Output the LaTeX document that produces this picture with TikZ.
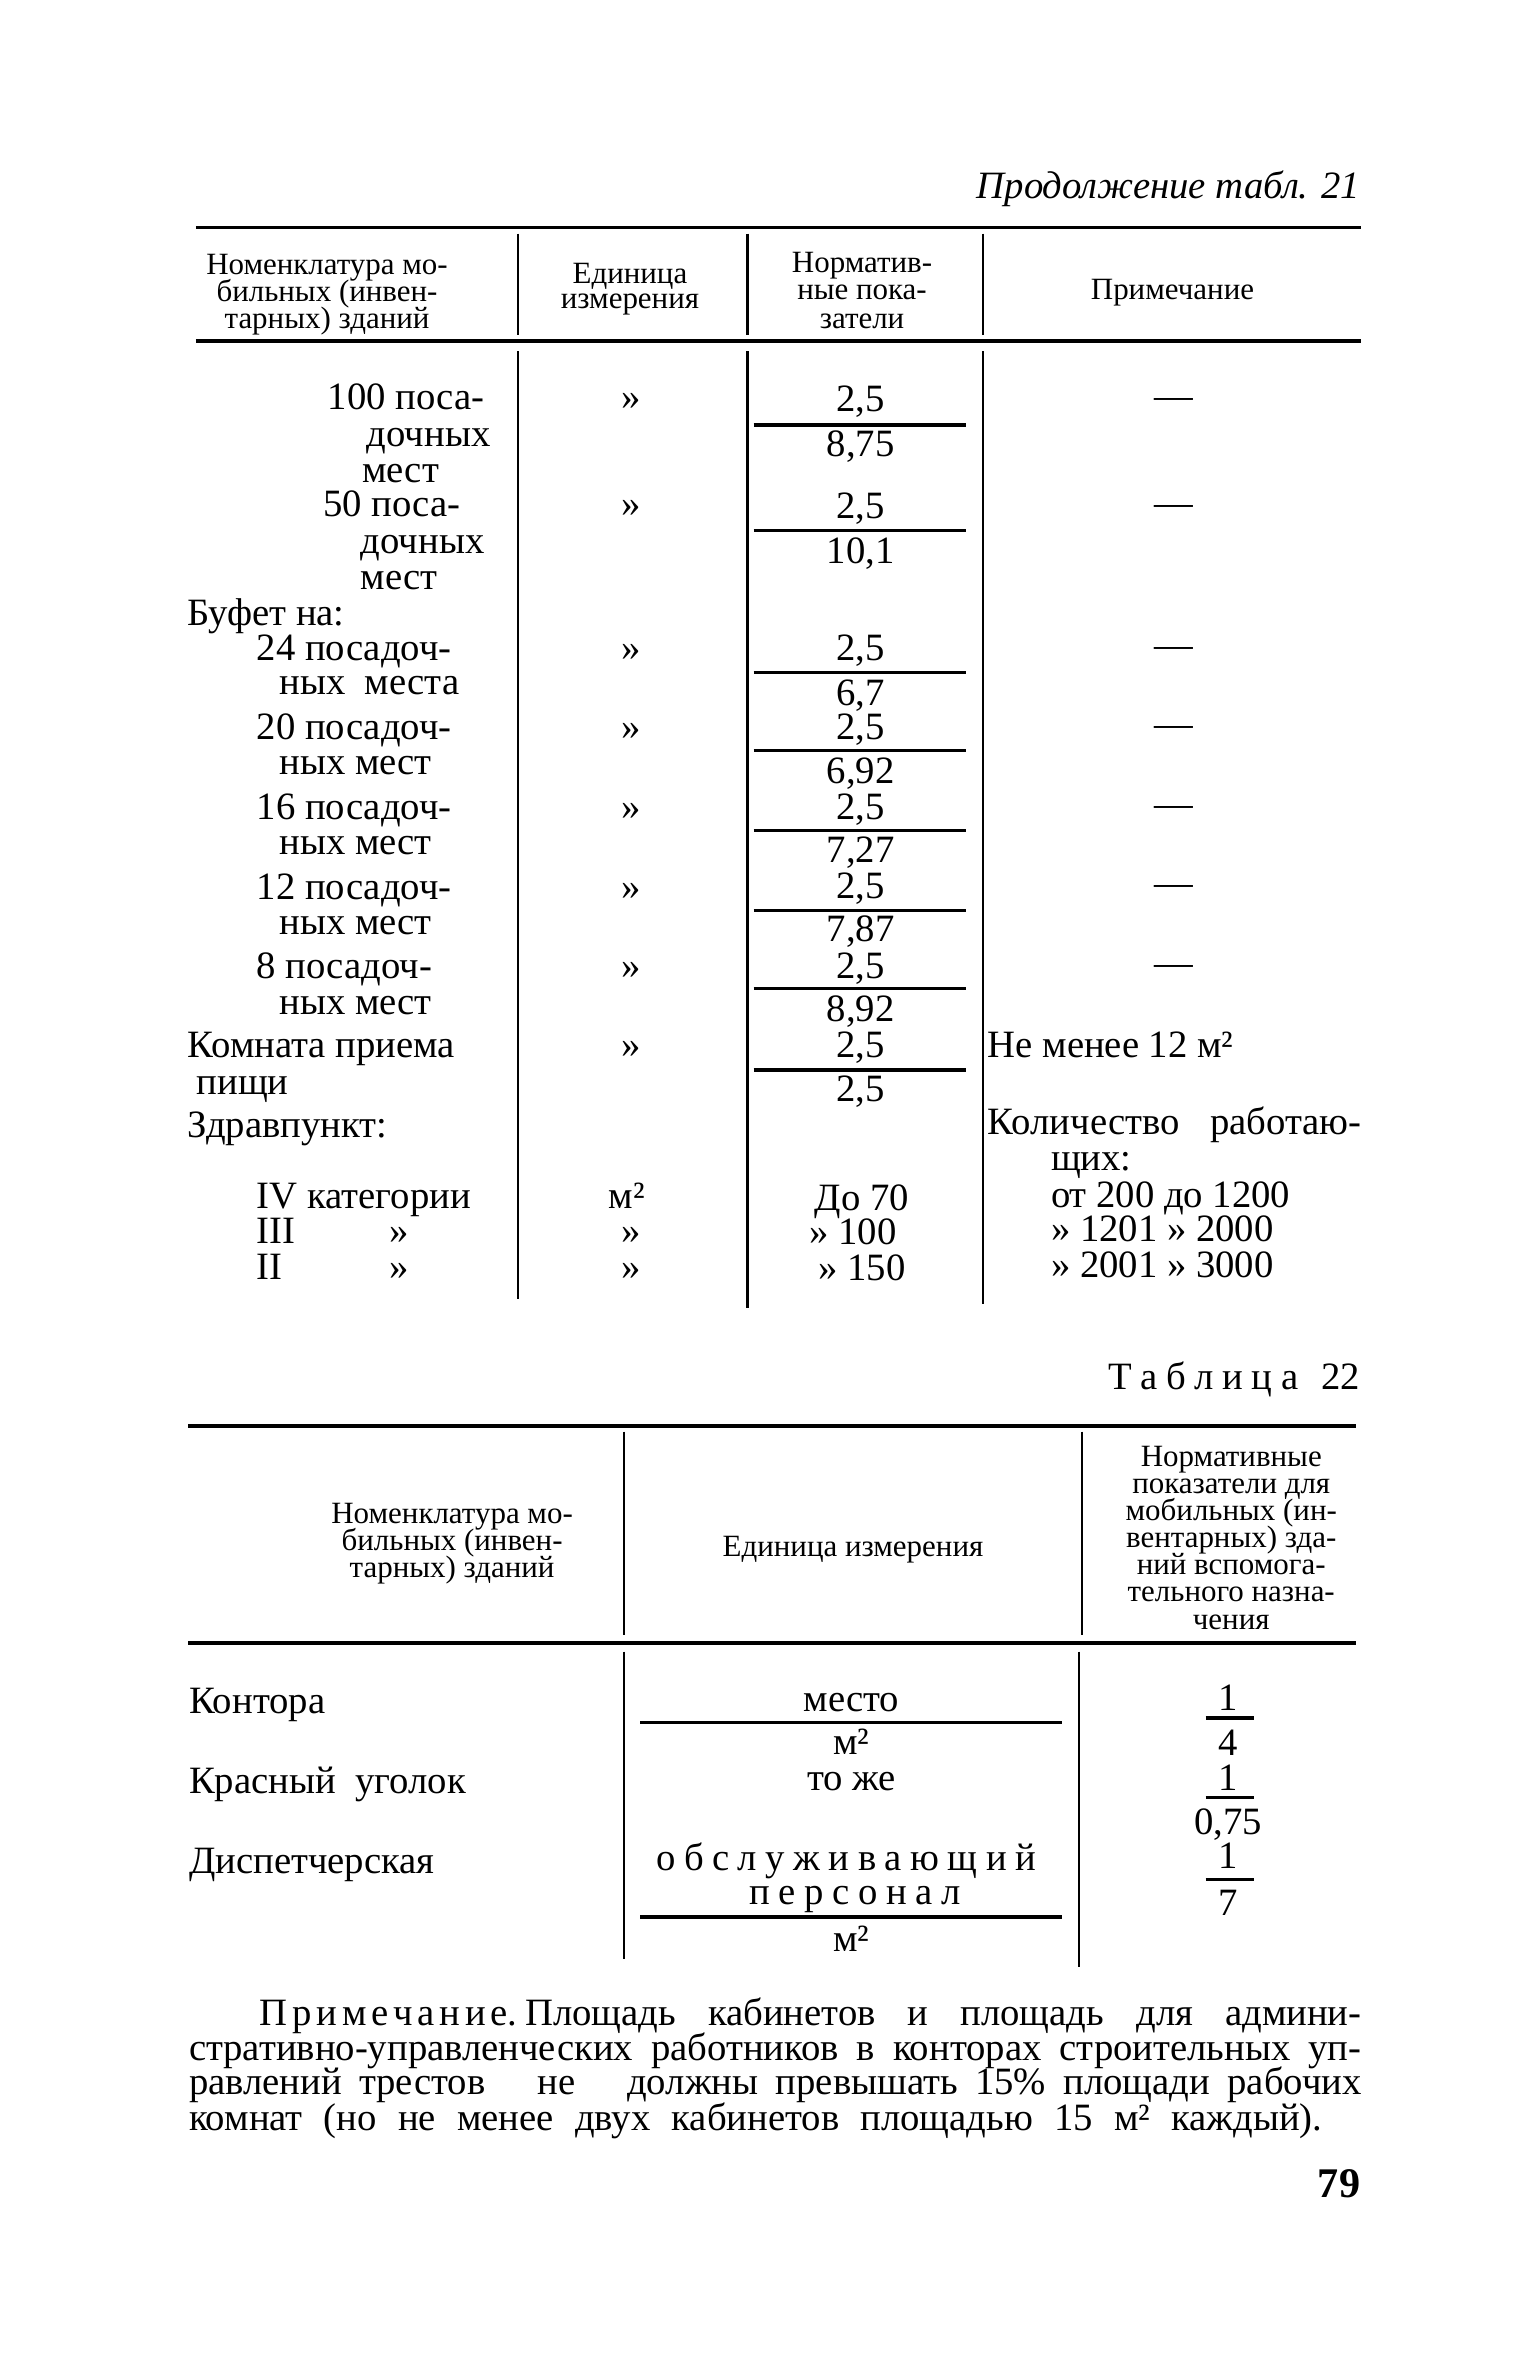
\documentclass[tikz,border=0pt]{standalone}
\usepackage{fontspec}
\setmainfont{Liberation Serif}
\newlength\ux
\setlength\ux{0.015065cm}
\newcommand\bodyfs{\fontsize{11}{12}\selectfont}
\newcommand\headfs{\fontsize{8.8}{9}\selectfont}
\tikzset{
  txt/.style={inner sep=0pt, font=\bodyfs},
  tL/.style={txt, anchor=base west},
  tC/.style={txt, anchor=base},
  tR/.style={txt, anchor=base east},
  hd/.style={inner sep=0pt, font=\headfs, anchor=base},
  hrule/.style={line width=1.1pt},
  vrule/.style={line width=0.6pt},
  frule/.style={line width=0.9pt},
}
\begin{document}
\begin{tikzpicture}[x=0.015065cm, y=-0.015065cm]
\useasboundingbox (0,0) rectangle (1019,1568);
\fill[white] (0,0) rectangle (1019,1568);

% title
\node[tR, font=\fontsize{11}{12}\selectfont\itshape] (title) at (903,132) {Продолжение табл. 21};

% ---------- Table 21 rules
\draw[hrule] (130,151) -- (903,151);
\draw[hrule] (130,226) -- (903,226);
\foreach \x in {344,496,652} \draw[vrule] (\x,155) -- (\x,222);
\draw[vrule] (344,233) -- (344,862);
\draw[vrule] (496,233) -- (496,868);
\draw[vrule] (652,233) -- (652,865);

% header
\node[hd] (h1a) at (217,182) {Номенклатура мо-};
\node[hd] (h1b) at (217,200) {бильных (инвен-};
\node[hd] (h1c) at (217,218) {тарных) зданий};
\node[hd] (h2a) at (418,188) {Единица};
\node[hd] (h2b) at (418,205) {измерения};
\node[hd] (h3a) at (572,181) {Норматив-};
\node[hd] (h3b) at (572,199) {ные пока-};
\node[hd] (h3c) at (572,218) {затели};
\node[hd] (h4) at (778,199) {Примечание};

% column 1
\node[tL] (a1) at (217,272) {100 поса-};
\node[tL] (a2) at (243,296) {дочных};
\node[tL] (a3) at (240,320) {мест};
\node[tL] (a4) at (214,343) {50 поса-};
\node[tL] (a5) at (239,367) {дочных};
\node[tL] (a6) at (239,391) {мест};
\node[tL] (a7) at (124,415) {Буфет на:};
\node[tL] (a8) at (170,438) {24 посадоч-};
\node[tL] (a9) at (185,461) {ных\ \ места};
\node[tL] (a10) at (170,491) {20 посадоч-};
\node[tL] (a11) at (185,514) {ных мест};
\node[tL] (a12) at (170,544) {16 посадоч-};
\node[tL] (a13) at (185,567) {ных мест};
\node[tL] (a14) at (170,597) {12 посадоч-};
\node[tL] (a15) at (185,620) {ных мест};
\node[tL] (a16) at (170,649) {8 посадоч-};
\node[tL] (a17) at (185,673) {ных мест};
\node[tL] (a18) at (124,702) {Комната приема};
\node[tL] (a19) at (130,726) {пищи};
\node[tL] (a20) at (124,755) {Здравпункт:};
\node[tL] (a21) at (170,802) {IV категории};
\node[tL] (a22) at (170,825) {III};
\node[tL] (a22q) at (258,825) {»};
\node[tL] (a23) at (170,849) {II};
\node[tL] (a23q) at (258,849) {»};

% column 2
\foreach \y [count=\i] in {272,343,438,491,544,597,649,702}
  \node[tC] (b\i) at (419,\y) {»};
\node[tC] (b9) at (416,802) {м²};
\node[tC] (b10) at (419,825) {»};
\node[tC] (b11) at (419,849) {»};

% column 3 fractions
\foreach \ny/\ry/\den/\dy [count=\i] in {273/282/{8,75}/303, 344/352/{10,1}/374, 438/446/{6,7}/468, 491/498/{6,92}/520, 544/551/{7,27}/572, 596/604/{7,87}/625, 649/656/{8,92}/678, 702/710/{2,5}/731}{
  \node[tC] (n\i) at (571,\ny) {2,5};
  \draw[frule] (500,\ry) -- (641,\ry);
  \node[tC] (d\i) at (571,\dy) {\den};
}
\node[tC] (c1) at (572,803) {До 70};
\node[tC] (c2) at (566,826) {» 100};
\node[tC] (c3) at (572,850) {» 150};

% column 4
\foreach \y [count=\i] in {271,342,436,489,542,594,647}
  \node[tC] (e\i) at (779,\y) {—};
\node[tL] (e8) at (655,702) {Не менее 12 м²};
\node[tL] (e9) at (655,753) {\makebox[248\ux][s]{Количество работаю-}};
\node[tL] (e10) at (697,777) {щих:};
\node[tL] (e11) at (697,801) {от 200 до 1200};
\node[tL] (e12) at (697,824) {» 1201 » 2000};
\node[tL] (e13) at (697,848) {» 2001 » 3000};

% ---------- Table 22
\node[tL] (t22a) at (735,922) {\makebox[126\ux][s]{Т\hfill а\hfill б\hfill л\hfill и\hfill ц\hfill а}};
\node[tR] (t22b) at (903,922) {22};

\draw[hrule] (125,946) -- (900,946);
\draw[hrule] (125,1090) -- (900,1090);
\draw[vrule] (414,950) -- (414,1085);
\draw[vrule] (718,950) -- (718,1085);
\draw[vrule] (414,1096) -- (414,1300);
\draw[vrule] (716,1096) -- (716,1305);

\node[hd] (g1a) at (300,1011) {Номенклатура мо-};
\node[hd] (g1b) at (300,1029) {бильных (инвен-};
\node[hd] (g1c) at (300,1047) {тарных) зданий};
\node[hd] (g2) at (566,1033) {Единица измерения};
\foreach \t/\y [count=\i] in {Нормативные/973, показатели для/991, мобильных (ин-/1009, вентарных) зда-/1027, ний вспомога-/1045, тельного назна-/1063, чения/1081}
  \node[hd] (g3\i) at (817,\y) {\t};

\node[tL] (k1) at (125,1137) {Контора};
\node[tL] (k2) at (125,1190) {Красный\ \ уголок};
\node[tL] (k3) at (125,1243) {Диспетчерская};

\node[tC] (m1) at (565,1136) {место};
\draw[frule] (425,1143) -- (705,1143);
\node[tC] (m2) at (565,1164) {м²};
\node[tC] (m3) at (565,1188) {то же};
\node[tL] (m4) at (435,1241) {\makebox[252\ux][s]{о\hfill б\hfill с\hfill л\hfill у\hfill ж\hfill и\hfill в\hfill а\hfill ю\hfill щ\hfill и\hfill й}};
\node[tL] (m5) at (497,1264) {\makebox[140\ux][s]{п\hfill е\hfill р\hfill с\hfill о\hfill н\hfill а\hfill л}};
\draw[frule] (425,1272) -- (705,1272);
\node[tC] (m6) at (565,1295) {м²};

\node[tC] (f1) at (815,1135) {1};
\draw[frule] (800,1140) -- (832,1140);
\node[tC] (f2) at (815,1165) {4};
\node[tC] (f3) at (815,1188) {1};
\draw[frule] (800,1193) -- (832,1193);
\node[tC] (f4) at (815,1217) {0,75};
\node[tC] (f5) at (815,1240) {1};
\draw[frule] (800,1247) -- (832,1247);
\node[tC] (f6) at (815,1271) {7};

% ---------- Note
\node[tL] (p0) at (172,1344) {\makebox[171\ux][s]{П\hfill р\hfill и\hfill м\hfill е\hfill ч\hfill а\hfill н\hfill и\hfill е.}};
\node[tL] (p1) at (348,1344) {\makebox[555\ux][s]{Площадь кабинетов и площадь для админи-}};
\node[tL] (p2) at (125,1367) {\makebox[778\ux][s]{стративно-управленческих работников в конторах строительных уп-}};
\node[tL] (p3) at (125,1390) {\makebox[778\ux][s]{равлений трестов\ \ \ не\ \ \ должны превышать 15\% площади рабочих}};
\node[tL] (p4) at (125,1414) {\makebox[752\ux][s]{комнат (но не менее двух кабинетов площадью 15 м² каждый).}};

\node[tR, font=\fontsize{12}{12}\selectfont\bfseries] (pg) at (903,1458) {79};
\end{tikzpicture}
\end{document}
